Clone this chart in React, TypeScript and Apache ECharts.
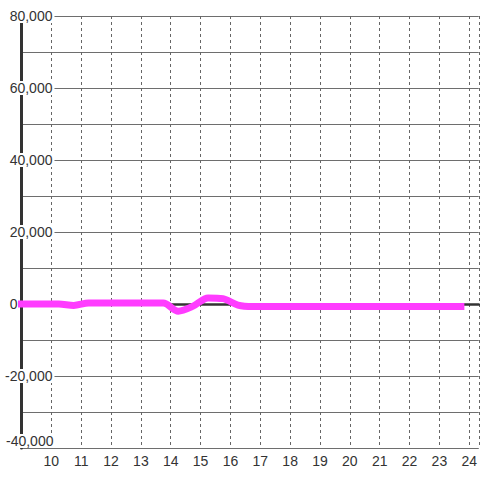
import React, { useEffect, useRef } from "react";
import * as echarts from "echarts";

const xValues = [9, 10.25, 10.75, 11.25, 13.75, 14.25, 14.75, 15.25, 15.75, 16.25, 16.75, 23.72];
const yValues = [0, 0, -400, 300, 300, -2000, -600, 1700, 1500, -300, -700, -700];
const xMin = 9;
const xMax = 24.32;
const yMin = -40000;
const yMax = 80000;
const yStep = 20000;

const fmt = (v: number) => {
  const s = Math.abs(v).toString().replace(/\B(?=(\d{3})+(?!\d))/g, ",");
  return (v < 0 ? "-" : "") + s;
};

export default function App() {
  const ref = useRef<HTMLDivElement>(null);
  useEffect(() => {
    if (!ref.current) return;
    const chart = echarts.init(ref.current, undefined, { renderer: "svg" });
    const font = "'Liberation Sans', Arial, sans-serif";
    chart.setOption({
      animation: false,
      backgroundColor: "#ffffff",
      grid: { left: 20.3, right: 0, top: 16, bottom: 32, containLabel: false },
      xAxis: [
        {
          type: "value",
          min: xMin,
          max: xMax,
          interval: 1,
          axisLine: { show: false, onZero: false },
          axisTick: { show: false },
          axisLabel: {
            showMinLabel: false,
            showMaxLabel: false,
            formatter: (v: number) => (Number.isInteger(v) && v >= 10 ? String(v) : ""),
            fontSize: 14,
            color: "#333",
            fontFamily: font,
            margin: 6,
          },
          splitLine: { show: true, lineStyle: { type: [3, 3], color: "#666", width: 1 } },
        },
        {
          type: "value",
          min: xMin,
          max: xMax,
          position: "bottom",
          axisLine: { show: true, onZero: true, onZeroAxisIndex: 0, lineStyle: { color: "#333", width: 2.5 } },
          axisTick: { show: false },
          axisLabel: { show: false },
          splitLine: { show: false },
        },
      ],
      yAxis: {
        type: "value",
        min: yMin,
        max: yMax,
        interval: yStep,
        axisLine: { show: true, onZero: false, lineStyle: { color: "#333", width: 3 } },
        axisTick: { show: false },
        splitLine: { show: true, lineStyle: { color: "#6e6e6e", width: 1 } },
        minorTick: { show: false, splitNumber: 2 },
        minorSplitLine: { show: true, lineStyle: { color: "#6e6e6e", width: 1 } },
        axisLabel: {
          margin: -33,
          fontSize: 14,
          color: "#333",
          fontFamily: font,
          formatter: (v: number) => {
            if (v === yMin) return "{low|" + fmt(v) + "}\n{sp| }";
            if (v === 0) return "{z|0}";
            return "{n|" + fmt(v) + "}";
          },
          rich: {
            n: { fontSize: 14, color: "#333", fontFamily: font, lineHeight: 14, backgroundColor: "#ffffff", padding: [0, 2, 0, 2] },
            low: { fontSize: 14, color: "#333", fontFamily: font, lineHeight: 14, backgroundColor: "#ffffff", padding: [0, 1, 0, 2] },
            sp: { fontSize: 14, lineHeight: 14 },
            z: { fontSize: 14, color: "#333", fontFamily: font, lineHeight: 14, padding: [0, 37, 0, 0] },
          },
        },
      },
      series: [
        {
          type: "line",
          xAxisIndex: 0,
          data: xValues.map((x, i) => [x, yValues[i]]),
          showSymbol: false,
          smooth: 0.3,
          clip: false,
          z: 5,
          lineStyle: { color: "#ff3cff", width: 7, cap: "square", join: "round" },
        },
      ],
    });
    return () => chart.dispose();
  }, []);
  return (
    <div
      ref={ref}
      style={{ position: "fixed", left: 0, top: 0, width: 480, height: 480 }}
    />
  );
}
